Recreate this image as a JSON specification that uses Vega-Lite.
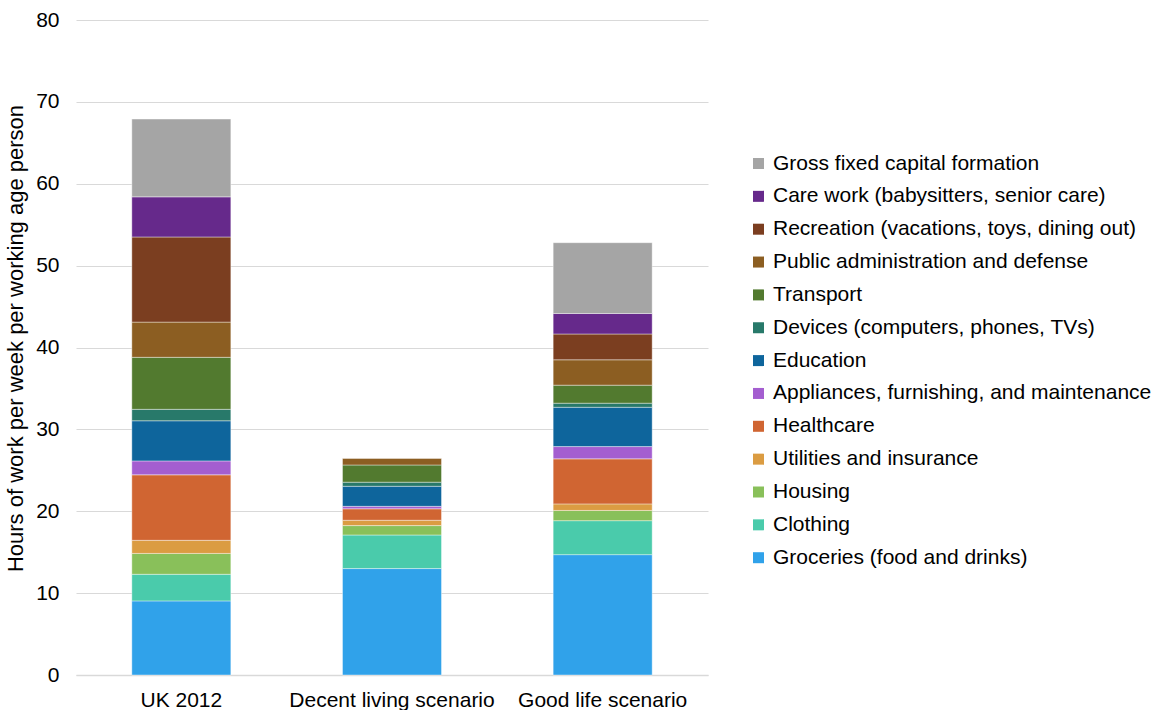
{
  "$schema": "https://vega.github.io/schema/vega-lite/v6.json",
  "autosize": "none",
  "width": 632,
  "height": 655,
  "padding": {"left": 76, "top": 20, "right": 454, "bottom": 35},
  "background": "white",
  "config": {
    "font": "Liberation Sans",
    "view": {"stroke": null}
  },
  "data": {
    "values": [
      {"scenario": "UK 2012", "category": "Groceries (food and drinks)", "seq": 1, "hours": 9.05},
      {"scenario": "UK 2012", "category": "Clothing", "seq": 2, "hours": 3.25},
      {"scenario": "UK 2012", "category": "Housing", "seq": 3, "hours": 2.55},
      {"scenario": "UK 2012", "category": "Utilities and insurance", "seq": 4, "hours": 1.6},
      {"scenario": "UK 2012", "category": "Healthcare", "seq": 5, "hours": 8.0},
      {"scenario": "UK 2012", "category": "Appliances, furnishing, and maintenance", "seq": 6, "hours": 1.7},
      {"scenario": "UK 2012", "category": "Education", "seq": 7, "hours": 4.9},
      {"scenario": "UK 2012", "category": "Devices (computers, phones, TVs)", "seq": 8, "hours": 1.4},
      {"scenario": "UK 2012", "category": "Transport", "seq": 9, "hours": 6.35},
      {"scenario": "UK 2012", "category": "Public administration and defense", "seq": 10, "hours": 4.3},
      {"scenario": "UK 2012", "category": "Recreation (vacations, toys, dining out)", "seq": 11, "hours": 10.4},
      {"scenario": "UK 2012", "category": "Care work (babysitters, senior care)", "seq": 12, "hours": 4.9},
      {"scenario": "UK 2012", "category": "Gross fixed capital formation", "seq": 13, "hours": 9.5},

      {"scenario": "Decent living scenario", "category": "Groceries (food and drinks)", "seq": 1, "hours": 13.0},
      {"scenario": "Decent living scenario", "category": "Clothing", "seq": 2, "hours": 4.1},
      {"scenario": "Decent living scenario", "category": "Housing", "seq": 3, "hours": 1.15},
      {"scenario": "Decent living scenario", "category": "Utilities and insurance", "seq": 4, "hours": 0.65},
      {"scenario": "Decent living scenario", "category": "Healthcare", "seq": 5, "hours": 1.4},
      {"scenario": "Decent living scenario", "category": "Appliances, furnishing, and maintenance", "seq": 6, "hours": 0.3},
      {"scenario": "Decent living scenario", "category": "Education", "seq": 7, "hours": 2.45},
      {"scenario": "Decent living scenario", "category": "Devices (computers, phones, TVs)", "seq": 8, "hours": 0.5},
      {"scenario": "Decent living scenario", "category": "Transport", "seq": 9, "hours": 2.1},
      {"scenario": "Decent living scenario", "category": "Public administration and defense", "seq": 10, "hours": 0.8},

      {"scenario": "Good life scenario", "category": "Groceries (food and drinks)", "seq": 1, "hours": 14.7},
      {"scenario": "Good life scenario", "category": "Clothing", "seq": 2, "hours": 4.15},
      {"scenario": "Good life scenario", "category": "Housing", "seq": 3, "hours": 1.25},
      {"scenario": "Good life scenario", "category": "Utilities and insurance", "seq": 4, "hours": 0.8},
      {"scenario": "Good life scenario", "category": "Healthcare", "seq": 5, "hours": 5.5},
      {"scenario": "Good life scenario", "category": "Appliances, furnishing, and maintenance", "seq": 6, "hours": 1.5},
      {"scenario": "Good life scenario", "category": "Education", "seq": 7, "hours": 4.8},
      {"scenario": "Good life scenario", "category": "Devices (computers, phones, TVs)", "seq": 8, "hours": 0.5},
      {"scenario": "Good life scenario", "category": "Transport", "seq": 9, "hours": 2.2},
      {"scenario": "Good life scenario", "category": "Public administration and defense", "seq": 10, "hours": 3.1},
      {"scenario": "Good life scenario", "category": "Recreation (vacations, toys, dining out)", "seq": 11, "hours": 3.15},
      {"scenario": "Good life scenario", "category": "Care work (babysitters, senior care)", "seq": 12, "hours": 2.5},
      {"scenario": "Good life scenario", "category": "Gross fixed capital formation", "seq": 13, "hours": 8.65}
    ]
  },
  "mark": {"type": "bar", "stroke": "white", "strokeWidth": 0.8, "strokeOpacity": 0.5},
  "encoding": {
    "x": {
      "field": "scenario",
      "type": "nominal",
      "sort": ["UK 2012", "Decent living scenario", "Good life scenario"],
      "scale": {"paddingInner": 0.53, "paddingOuter": 0.265},
      "axis": {
        "title": null,
        "labelAngle": 0,
        "labelFontSize": 21,
        "labelColor": "#000000",
        "labelPadding": 14,
        "labelLimit": 400,
        "labelOverlap": false,
        "ticks": false,
        "domainColor": "#d9d9d9",
        "domainWidth": 1.5
      }
    },
    "y": {
      "field": "hours",
      "type": "quantitative",
      "stack": "zero",
      "scale": {"domain": [0, 80], "nice": false},
      "axis": {
        "title": "Hours of work per week per working age person",
        "titleFontSize": 22,
        "titleFontWeight": "normal",
        "titleColor": "#000000",
        "titlePadding": 8,
        "titleY": 318,
        "values": [0, 10, 20, 30, 40, 50, 60, 70, 80],
        "labelFontSize": 21,
        "labelColor": "#000000",
        "labelPadding": 17,
        "ticks": false,
        "tickSize": 0,
        "domain": false,
        "gridColor": "#d9d9d9",
        "gridWidth": 1
      }
    },
    "color": {
      "field": "category",
      "type": "nominal",
      "scale": {
        "domain": [
          "Gross fixed capital formation",
          "Care work (babysitters, senior care)",
          "Recreation (vacations, toys, dining out)",
          "Public administration and defense",
          "Transport",
          "Devices (computers, phones, TVs)",
          "Education",
          "Appliances, furnishing, and maintenance",
          "Healthcare",
          "Utilities and insurance",
          "Housing",
          "Clothing",
          "Groceries (food and drinks)"
        ],
        "range": [
          "#A5A5A5",
          "#66298B",
          "#7B3E20",
          "#8C5E22",
          "#527A2F",
          "#28796A",
          "#0E659C",
          "#A45ED0",
          "#D06532",
          "#DB9C42",
          "#89C05A",
          "#4ACBAB",
          "#30A2EA"
        ]
      },
      "legend": {
        "title": null,
        "orient": "none",
        "legendX": 672,
        "legendY": 133,
        "symbolType": "square",
        "symbolSize": 121,
        "symbolStrokeWidth": 0,
        "labelFontSize": 21,
        "labelColor": "#000000",
        "labelOffset": 4,
        "labelLimit": 500,
        "rowPadding": 10.85
      }
    },
    "order": {"field": "seq", "type": "quantitative", "sort": "ascending"}
  }
}
